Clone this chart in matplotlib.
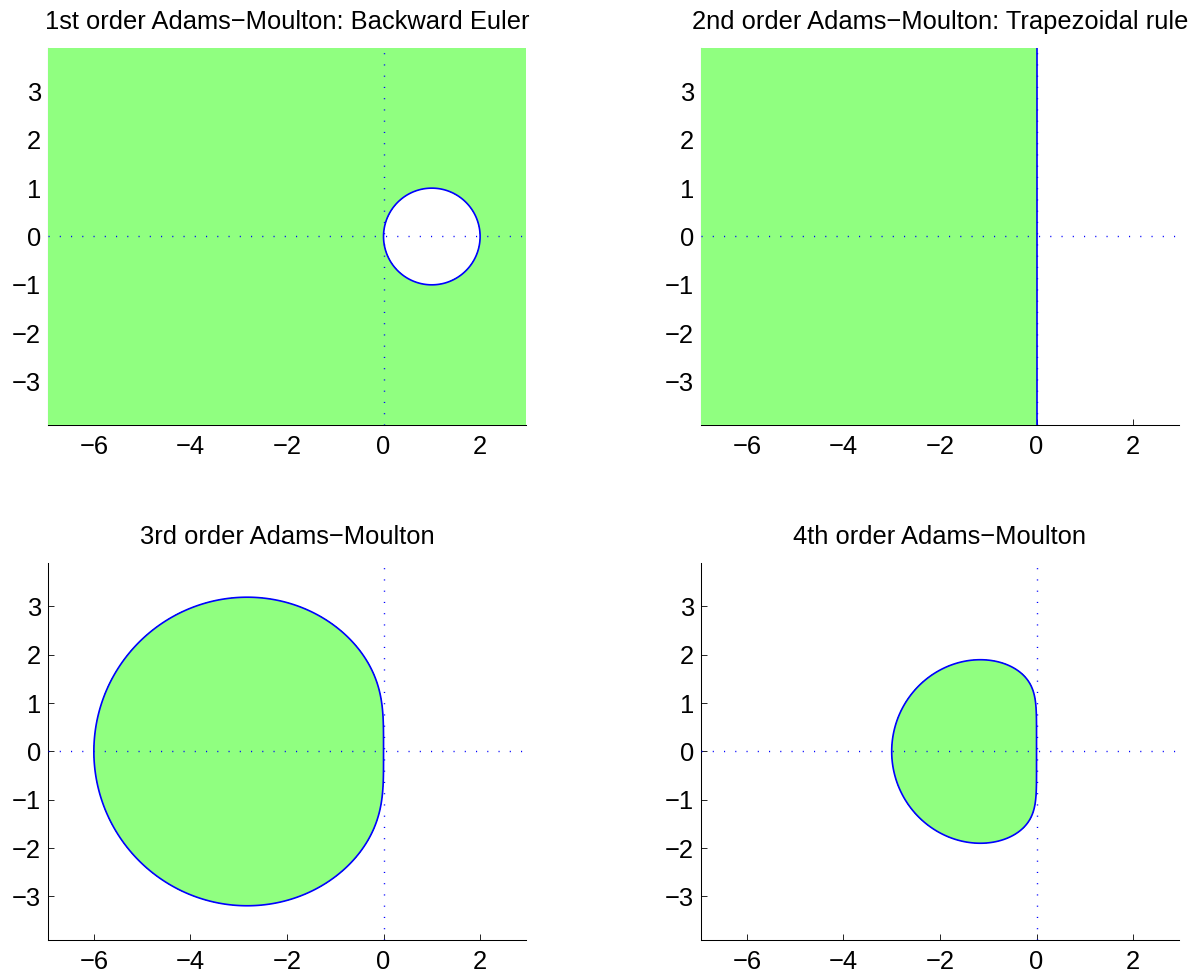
import numpy as np
import matplotlib
matplotlib.use('Agg')
import matplotlib.pyplot as plt

plt.rcParams['font.family'] = ['Liberation Sans', 'DejaVu Sans']

titles = ['1st order Adams\u2212Moulton: Backward Euler',
          '2nd order Adams\u2212Moulton: Trapezoidal rule',
          '3rd order Adams\u2212Moulton',
          '4th order Adams\u2212Moulton']

# method coefficients, ascending powers of zeta: rho(zeta) - z*sigma(zeta) = 0
rho_am1 = [-1, 1]
sigma_am1 = [0, 1]
rho_am2 = [-1, 1]
sigma_am2 = [1/2, 1/2]
rho_am3 = [0, -1, 1]
sigma_am3 = [-1/12, 8/12, 5/12]
rho_am4 = [0, 0, -1, 1]
sigma_am4 = [1/24, -5/24, 19/24, 9/24]

x_lim = [-6.95, 2.95]
y_lim = [-3.9, 3.9]
x_ticks = [-6, -4, -2, 0, 2]
y_ticks = [-3, -2, -1, 0, 1, 2, 3]

green = '#90ff80'


def max_root(rho, sigma, z):
    # largest |zeta| of the characteristic polynomial, via companion matrices
    k = len(rho) - 1
    c = np.array(rho, float)[:, None] - np.outer(sigma, z)
    lead = c[k]
    lead = np.where(np.abs(lead) < 1e-12, 1e-12, lead)
    comp = np.zeros((z.size, k, k), complex)
    comp[:, 0, :] = -(c[k-1::-1] / lead).T
    for i in range(1, k):
        comp[:, i, i-1] = 1
    return np.abs(np.linalg.eigvals(comp)).max(axis=1)


X, Y = np.meshgrid(np.linspace(x_lim[0], x_lim[1], 800),
                   np.linspace(y_lim[0], y_lim[1], 640))
Zg = (X + 1j*Y).ravel()

fig = plt.figure(figsize=(11.94, 9.75), dpi=100)
pos = [[0.0402, 0.5641, 0.4003, 0.3867],
       [0.5871, 0.5641, 0.4003, 0.3867],
       [0.0402, 0.0359, 0.4003, 0.3867],
       [0.5871, 0.0359, 0.4003, 0.3867]]
methods = [(rho_am1, sigma_am1), (rho_am2, sigma_am2),
           (rho_am3, sigma_am3), (rho_am4, sigma_am4)]

for p, (rho, sigma), t in zip(pos, methods, titles):
    ax = fig.add_axes(p)
    R = np.minimum(max_root(rho, sigma, Zg), 10).reshape(X.shape)
    ax.contourf(X, Y, R, levels=[0, 1], colors=[green], zorder=3)
    ax.plot(x_lim, [0, 0], color='b', ls=(0, (0.8, 7.3)), lw=1, zorder=4)
    ax.plot([0, 0], y_lim, color='b', ls=(0, (0.8, 7.3)), lw=1, zorder=4)
    ax.contour(X, Y, R, levels=[1], colors='b', linewidths=1.2, zorder=5)
    ax.set_xlim(x_lim)
    ax.set_ylim(y_lim)
    ax.set_xticks(x_ticks)
    ax.set_yticks(y_ticks)
    ax.spines['top'].set_visible(False)
    ax.spines['right'].set_visible(False)
    for s in ['left', 'bottom']:
        ax.spines[s].set_linewidth(0.75)
    ax.tick_params(direction='in', length=4, width=0.6, labelsize=18.4)
    ax.tick_params(axis='x', pad=7)
    ax.tick_params(axis='y', pad=5)
    ax.set_title(t, fontsize=18.4, pad=14)

plt.savefig('out.png')
